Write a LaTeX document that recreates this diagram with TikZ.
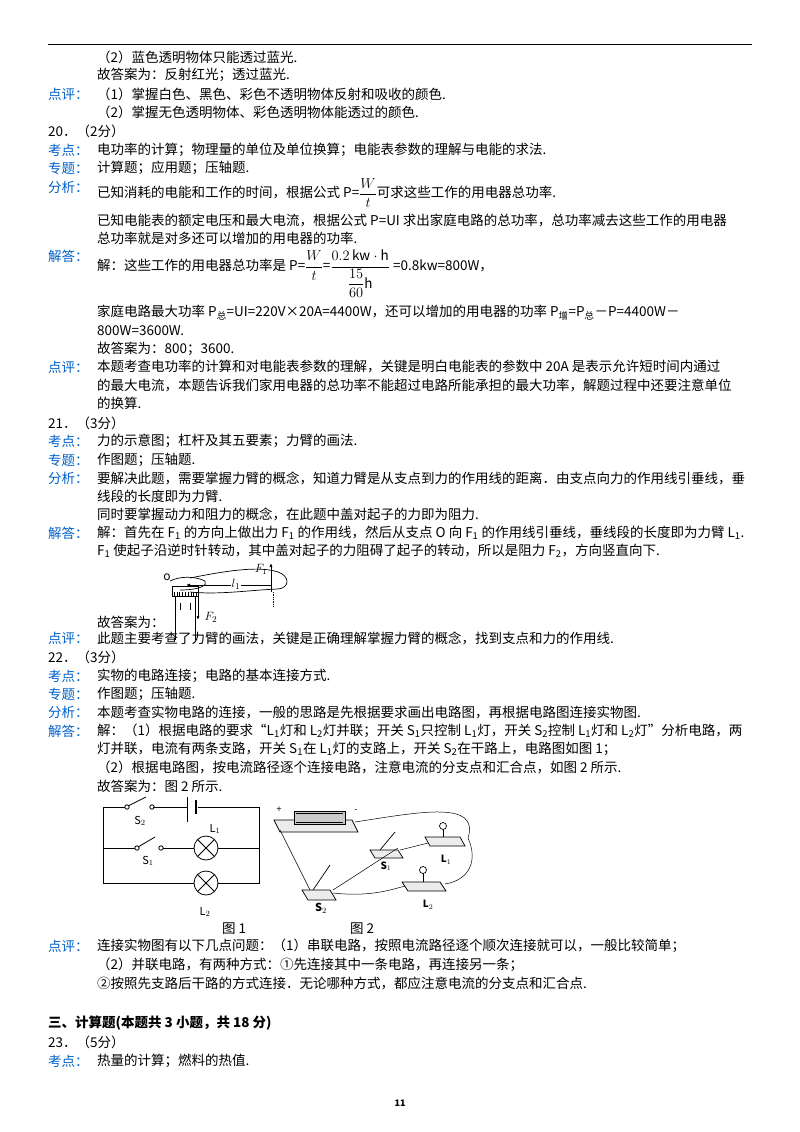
\documentclass[tikz,border=0pt]{standalone}
\usepackage{fontspec}
\usepackage{amsmath}
\setmainfont{Noto Sans CJK SC}
\usetikzlibrary{arrows.meta}
\definecolor{lblue}{RGB}{0,96,200}
\tikzset{tx/.style={anchor=west,inner sep=0pt,font=\fontsize{13.5}{15}\selectfont},
 lb/.style={tx,text=lblue},
 wire/.style={line width=0.8pt},
 fig/.style={line width=0.7pt}}
\newcommand{\Lt}[4][]{\node[tx,#1] (#2) at #3 {#4};}
\newcommand{\sub}[1]{\textsubscript{#1}}
\begin{document}
\begin{tikzpicture}[x=1pt,y=-1pt]
\useasboundingbox (0,0) rectangle (800,1132);
\draw[line width=0.8pt] (48,44) -- (752,44);
\Lt{a1}{(97,57)}{（2）蓝色透明物体只能透过蓝光.}
\Lt{a2}{(97,75)}{故答案为：反射红光；透过蓝光.}
\Lt[lb]{a3}{(48,94)}{点评：}
\Lt{a4}{(97,94)}{（1）掌握白色、黑色、彩色不透明物体反射和吸收的颜色.}
\Lt{a5}{(97,112)}{（2）掌握无色透明物体、彩色透明物体能透过的颜色.}
\Lt{b0}{(48,131)}{20．（2分）}
\Lt[lb]{b1}{(48,150)}{考点：}
\Lt{b1t}{(97,150)}{电功率的计算；物理量的单位及单位换算；电能表参数的理解与电能的求法.}
\Lt[lb]{b2}{(48,168)}{专题：}
\Lt{b2t}{(97,168)}{计算题；应用题；压轴题.}
\Lt[lb]{b3}{(48,187)}{分析：}
\Lt{b3t}{(97,193)}{已知消耗的电能和工作的时间，根据公式 P=$\dfrac{W}{t}$可求这些工作的用电器总功率.}
\Lt{b4}{(97,220)}{已知电能表的额定电压和最大电流，根据公式 P=UI 求出家庭电路的总功率，总功率减去这些工作的用电器}
\Lt{b5}{(97,238)}{总功率就是对多还可以增加的用电器的功率.}
\Lt[lb]{b6}{(48,256)}{解答：}
\Lt{b7}{(97,274)}{解：这些工作的用电器总功率是 P=$\dfrac{W}{t}$=$\dfrac{0.2\,\mathrm{kw\cdot h}}{\dfrac{15}{60}\mathrm{h}}$ =0.8kw=800W，}
\Lt{b8}{(97,313)}{家庭电路最大功率 P\sub{总}=UI=220V×20A=4400W，还可以增加的用电器的功率 P\sub{增}=P\sub{总}－P=4400W－}
\Lt{b9}{(97,331)}{800W=3600W.}
\Lt{b10}{(97,349)}{故答案为：800；3600.}
\Lt[lb]{b11}{(48,367)}{点评：}
\Lt{b12}{(97,367)}{本题考查电功率的计算和对电能表参数的理解，关键是明白电能表的参数中 20A 是表示允许短时间内通过}
\Lt{b13}{(97,385)}{的最大电流，本题告诉我们家用电器的总功率不能超过电路所能承担的最大功率，解题过程中还要注意单位}
\Lt{b14}{(97,403)}{的换算.}
\Lt{c0}{(48,423)}{21．（3分）}
\Lt[lb]{c1}{(48,441)}{考点：}
\Lt{c1t}{(97,441)}{力的示意图；杠杆及其五要素；力臂的画法.}
\Lt[lb]{c2}{(48,460)}{专题：}
\Lt{c2t}{(97,460)}{作图题；压轴题.}
\Lt[lb]{c3}{(48,478)}{分析：}
\Lt{c3t}{(97,478)}{要解决此题，需要掌握力臂的概念，知道力臂是从支点到力的作用线的距离．由支点向力的作用线引垂线，垂}
\Lt{c4}{(97,496)}{线段的长度即为力臂.}
\Lt{c5}{(97,514)}{同时要掌握动力和阻力的概念，在此题中盖对起子的力即为阻力.}
\Lt[lb]{c6}{(48,533)}{解答：}
\Lt{c7}{(97,533)}{解：首先在 F\sub{1} 的方向上做出力 F\sub{1} 的作用线，然后从支点 O 向 F\sub{1} 的作用线引垂线，垂线段的长度即为力臂 L\sub{1}.}
\Lt{c8}{(97,551)}{F\sub{1} 使起子沿逆时针转动，其中盖对起子的力阻碍了起子的转动，所以是阻力 F\sub{2}，方向竖直向下.}
\Lt{c9}{(97,622)}{故答案为：}
% lever figure
\draw[fig] (172,586) rectangle (198,596);
\foreach \i in {0,...,8} \draw[line width=0.4pt] (174+2.8*\i,592) -- (174+2.8*\i,596);
\draw[fig] (175,596) -- (175,640) (195,596) -- (195,640) (180,603) -- (180,610) (190,603) -- (190,610);
\draw[fig] (190,578) .. controls (230,570) and (260,566) .. (278,572) .. controls (290,576) and (290,588) .. (278,589) .. controls (250,590) and (220,595) .. (190,592);
\draw[fig] (170,581) .. controls (180,576) and (195,576) .. (205,581) .. controls (208,585) and (200,590) .. (180,590);
\node[font=\itshape\fontsize{12}{12}\selectfont,inner sep=0pt] (O) at (167,577) {o};
\coordinate (fa) at (271,585); \coordinate (fb) at (186,585);
\draw[fig,-{Latex[length=4pt]}] (fa) -- (fb);
\node[fill=white,inner sep=1pt,font=\fontsize{13}{13}\selectfont] (l1) at (236,584) {$l_1$};
\coordinate (f1a) at (271,592); \coordinate (f1b) at (271,563);
\draw[fig,-{Latex[length=4pt]}] (f1a) -- (f1b);
\node[font=\fontsize{12}{12}\selectfont,inner sep=1pt] (F1) at (261,569) {$F_1$};
\draw[fig,densely dotted] (273,592) -- (273,606);
\coordinate (f2a) at (198,590); \coordinate (f2b) at (198,620);
\draw[fig,-{Latex[length=4pt]}] (f2a) -- (f2b);
\node[font=\fontsize{13}{13}\selectfont] (F2) at (211,617) {$F_2$};
\Lt[lb]{c10}{(48,638)}{点评：}
\Lt{c11}{(97,638)}{此题主要考查了力臂的画法，关键是正确理解掌握力臂的概念，找到支点和力的作用线.}
\Lt{d0}{(48,657)}{22．（3分）}
\Lt[lb]{d1}{(48,676)}{考点：}
\Lt{d1t}{(97,676)}{实物的电路连接；电路的基本连接方式.}
\Lt[lb]{d2}{(48,694)}{专题：}
\Lt{d2t}{(97,694)}{作图题；压轴题.}
\Lt[lb]{d3}{(48,712)}{分析：}
\Lt{d3t}{(97,712)}{本题考查实物电路的连接，一般的思路是先根据要求画出电路图，再根据电路图连接实物图.}
\Lt[lb]{d4}{(48,731)}{解答：}
\Lt{d4t}{(97,731)}{解：（1）根据电路的要求“L\sub{1}灯和 L\sub{2}灯并联；开关 S\sub{1}只控制 L\sub{1}灯，开关 S\sub{2}控制 L\sub{1}灯和 L\sub{2}灯”分析电路，两}
\Lt{d5}{(97,749)}{灯并联，电流有两条支路，开关 S\sub{1}在 L\sub{1}灯的支路上，开关 S\sub{2}在干路上，电路图如图 1；}
\Lt{d6}{(97,767)}{（2）根据电路图，按电流路径逐个连接电路，注意电流的分支点和汇合点，如图 2 所示.}
\Lt{d7}{(97,786)}{故答案为：图 2 所示.}
% circuit fig 1
\draw[wire] (103,807) -- (103,883) -- (259,883) -- (259,807) -- (198,807);
\draw[wire] (187,807) -- (153,807);
\draw[wire] (125,807) -- (103,807);
\draw[wire] (127,807) circle (2.2); \draw[wire] (152,807) circle (2.2);
\draw[wire] (128,806) -- (146,797);
\draw[line width=0.8pt] (187,797) -- (187,822);
\draw[line width=2.2pt] (196,800) -- (196,814);
\node[font=\fontsize{11}{11}\selectfont] (S2) at (140,821) {S$_2$};
\draw[wire] (103,848) -- (135,848) (163,848) -- (194,848) (218,848) -- (259,848);
\draw[wire] (137,848) circle (2.2); \draw[wire] (161,848) circle (2.2);
\draw[wire] (138,847) -- (155,837);
\node[font=\fontsize{11}{11}\selectfont] (S1) at (148,861) {S$_1$};
\foreach \yy in {848,883}{
 \draw[wire,fill=white] (206,\yy) circle (12);
 \draw[wire] (197.5,\yy-8.5) -- (214.5,\yy+8.5) (197.5,\yy+8.5) -- (214.5,\yy-8.5);}
\node[font=\fontsize{11}{11}\selectfont] (L1) at (215,829) {L$_1$};
\node[font=\fontsize{11}{11}\selectfont] (L2) at (205,912) {L$_2$};
% fig 2 (sketch)
\draw[fig,fill=gray!15] (274,820) -- (352,820) -- (358,832) -- (280,832) -- cycle;
\draw[fig,fill=gray!40] (294,811) rectangle (345,824);
\draw[line width=0.4pt] (296,813) -- (343,813) (296,822) -- (343,822);
\node[font=\fontsize{9}{9}\selectfont] (pl) at (279,810) {+};
\node[font=\fontsize{9}{9}\selectfont] (mi) at (356,811) {-};
\draw[fig,fill=gray!15] (302,890) -- (330,890) -- (336,900) -- (308,900) -- cycle;
\draw[fig] (313,890) -- (330,865);
\node[font=\bfseries\fontsize{11}{11}\selectfont] (S2b) at (321,908) {S$_2$};
\draw[fig,fill=gray!15] (370,850) -- (398,850) -- (403,858) -- (375,858) -- cycle;
\draw[fig] (380,850) -- (395,832);
\node[font=\bfseries\fontsize{10}{10}\selectfont] (S1b) at (386,866) {S$_1$};
\draw[fig,fill=gray!15] (425,837) -- (460,837) -- (465,846) -- (430,846) -- cycle;
\draw[fig] (443,837) -- (443,828); \draw[fig,fill=white] (443,826) circle (3.5);
\node[font=\bfseries\fontsize{10}{10}\selectfont] (L1b) at (446,860) {L$_1$};
\draw[fig,fill=gray!15] (402,882) -- (440,882) -- (446,891) -- (408,891) -- cycle;
\draw[fig] (423,882) -- (423,872); \draw[fig,fill=white] (423,870) circle (3.5);
\node[font=\bfseries\fontsize{10}{10}\selectfont] (L2b) at (428,905) {L$_2$};
\draw[line width=0.5pt] (280,830) -- (310,890);
\draw[line width=0.5pt] (355,822) .. controls (420,812) and (480,800) .. (468,838);
\draw[line width=0.5pt] (468,838) .. controls (478,860) and (470,880) .. (445,884);
\draw[line width=0.5pt] (333,890) -- (398,848);
\draw[line width=0.5pt] (333,893) .. controls (370,897) and (390,890) .. (405,886);
\draw[line width=0.5pt] (400,850) -- (428,843);
\Lt{f1}{(222,929)}{图 1}
\Lt{f2}{(350,929)}{图 2}
\Lt[lb]{e1}{(48,946)}{点评：}
\Lt{e1t}{(97,946)}{连接实物图有以下几点问题：（1）串联电路，按照电流路径逐个顺次连接就可以，一般比较简单；}
\Lt{e2}{(97,965)}{（2）并联电路，有两种方式：①先连接其中一条电路，再连接另一条；}
\Lt{e3}{(97,983)}{②按照先支路后干路的方式连接．无论哪种方式，都应注意电流的分支点和汇合点.}
\Lt[font=\bfseries\fontsize{13.5}{15}\selectfont]{g0}{(48,1023)}{三、计算题(本题共 3 小题，共 18 分)}
\Lt{g1}{(48,1042)}{23．（5分）}
\Lt[lb]{g2}{(48,1061)}{考点：}
\Lt{g2t}{(97,1061)}{热量的计算；燃料的热值.}
\node[font=\bfseries\fontsize{9}{9}\selectfont] (pg) at (400,1103) {11};
\end{tikzpicture}
\end{document}
